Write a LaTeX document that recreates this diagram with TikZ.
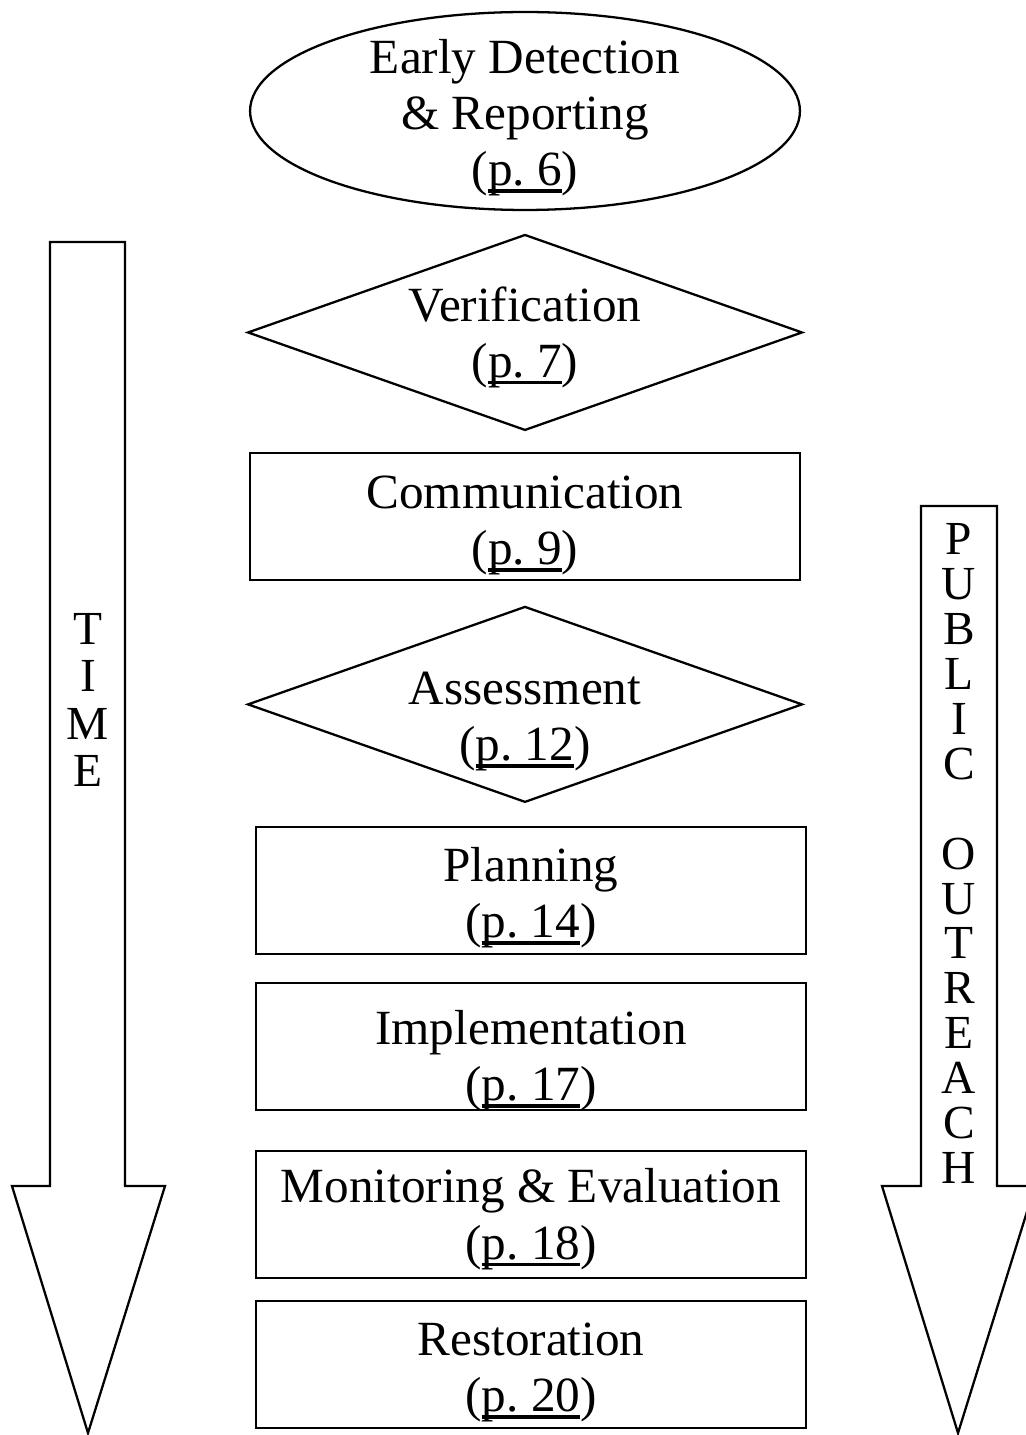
\documentclass[tikz,border=0pt]{standalone}
\usepackage{fontspec}
\setmainfont{Liberation Serif}
\usetikzlibrary{positioning,shapes.geometric}
\newcommand{\pnum}[1]{(\setbox0\hbox{p.\ #1}\rlap{\rule[-0.14em]{\wd0}{0.07em}}\box0)}
% pushes the lines of a node down by #1
\newcommand{\drop}[1]{\rule{0pt}{\dimexpr19pt+#1*2\relax}}

\begin{document}
\begin{tikzpicture}
        [
            x = 0.02cm, y = -0.02cm,
            line width = 1.3pt,
            node distance = 0.5cm,
            stage/.style = {
                draw, align=center, inner sep=0pt, outer sep=0pt,
                font=\fontsize{28}{32}\selectfont},
            oval/.style = {stage, ellipse, inner ysep=-0.4cm,
                minimum width=11cm, minimum height=3.96cm},
            rhomb/.style = {stage, diamond, aspect=2.84, inner ysep=-0.4cm,
                minimum width=11.08cm, minimum height=3.9cm},
            block/.style = {stage, rectangle, inner ysep=-0.2cm,
                minimum width=11cm, minimum height=2.54cm},
            letters/.style = {align=center, inner sep=0pt,
                font=\fontsize{27}{#1}\selectfont}
        ]
        \useasboundingbox (0,0) rectangle (1025,1435);
        \node [oval] (Early) at (525,111) {\drop{4pt}Early Detection\\ \& Reporting\\ \pnum{6}};
        \node [rhomb] (Verif) [below=0.5cm of Early] {\drop{3pt}Verification\\ \pnum{7}};
        \node [block] (Comm) [below=0.46cm of Verif] {\drop{5pt}Communication\\ \pnum{9}};
        \node [rhomb] (Assess) [below=0.54cm of Comm] {\drop{9.5pt}Assessment\\ \pnum{12}};
        \node [block] (Plan) [below=0.5cm of Assess, xshift=0.12cm] {\drop{4.5pt}Planning\\ \pnum{14}};
        \node [block] (Impl) [below=0.58cm of Plan] {\drop{8.5pt}Implementation\\ \pnum{17}};
        \node [block] (Monit) [below=0.82cm of Impl] {\drop{3pt}Monitoring \& Evaluation\\ \pnum{18}};
        \node [block] (Restor) [below=0.46cm of Monit] {\drop{4.5pt}Restoration\\ \pnum{20}};
        % the two big arrows at the sides
        \draw (50,242) -- (125,242) -- (125,1186) -- (165,1186) -- (88,1433)
            -- (12,1186) -- (50,1186) -- cycle;
        \draw (921,506) -- (997,506) -- (997,1186) -- (1035,1186) -- (958,1433)
            -- (882,1186) -- (921,1186) -- cycle;
        \node [letters=26.9pt] (Time) at (88,700) {T\\I\\M\\E};
        \node [letters=25.6pt] (Outreach) at (959,853.5)
            {P\\U\\B\\L\\I\\C\\\mbox{}\\O\\U\\T\\R\\E\\A\\C\\H};
    \end{tikzpicture}
\end{document}
